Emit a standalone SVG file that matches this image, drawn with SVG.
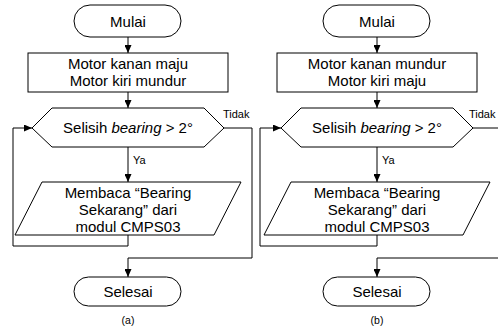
<svg xmlns="http://www.w3.org/2000/svg" width="498" height="329" viewBox="0 0 498 329">
<style>
.s{fill:#fff;stroke:#000;stroke-width:1}
.c{fill:none;stroke:#000;stroke-width:1}
text{font-family:"Liberation Sans",Arial,sans-serif;fill:#000}
.t{font-size:15px;text-anchor:middle}
.l{font-size:11px}
.cap{font-size:10.5px;text-anchor:middle}
</style>
<defs>
<marker id="ah" markerUnits="userSpaceOnUse" markerWidth="8" markerHeight="7" refX="8" refY="3.5" orient="auto">
<path d="M0,0 L8,3.5 L0,7 z" fill="#000"/>
</marker>
</defs>
<rect width="498" height="329" fill="#fff"/>
<g id="diagram-a">
<g id="connectors-a">
<path class="c" d="M128,37 V53" marker-end="url(#ah)"/>
<path class="c" d="M128,92 V108" marker-end="url(#ah)"/>
<path class="c" d="M128,147 V182" marker-end="url(#ah)"/>
<path class="c" d="M128,235 V246 H13 V128 H32" marker-end="url(#ah)"/>
<path class="c" d="M224,128 H252 V258 H128 V277" marker-end="url(#ah)"/>
<text class="l" x="133" y="164">Ya</text>
<text class="l" x="223" y="118">Tidak</text>
</g>
<g id="a-mulai"><rect class="s" x="74" y="5" width="107" height="32" rx="16"/><text class="t" x="128" y="27">Mulai</text></g>
<g id="a-motor"><rect class="s" x="28" y="53" width="200" height="39"/><text class="t" x="128" y="69">Motor kanan maju</text><text class="t" x="128" y="86">Motor kiri mundur</text></g>
<g id="a-cek"><polygon class="s" points="32,128 52,108 204,108 224,128 204,147 52,147"/><text class="t" x="128" y="133">Selisih <tspan font-style="italic">bearing</tspan> &gt; 2°</text></g>
<g id="a-baca"><polygon class="s" points="42,182 241,182 214,235 15,235"/><text class="t" x="128" y="198">Membaca “Bearing</text><text class="t" x="128" y="215">Sekarang” dari</text><text class="t" x="128" y="232">modul CMPS03</text></g>
<g id="a-selesai"><rect class="s" x="74" y="277" width="107" height="29" rx="14.5"/><text class="t" x="128" y="297">Selesai</text></g>
<text class="cap" x="128" y="324">(a)</text>
</g>
<g id="diagram-b" transform="translate(249,0)">
<g id="connectors-b">
<path class="c" d="M128,37 V53" marker-end="url(#ah)"/>
<path class="c" d="M128,92 V108" marker-end="url(#ah)"/>
<path class="c" d="M128,147 V182" marker-end="url(#ah)"/>
<path class="c" d="M128,235 V246 H11 V128 H32" marker-end="url(#ah)"/>
<path class="c" d="M224,128 H270 V258 H128 V277" marker-end="url(#ah)"/>
<text class="l" x="133" y="164">Ya</text>
<text class="l" x="220" y="118">Tidak</text>
</g>
<g id="b-mulai"><rect class="s" x="74" y="5" width="107" height="32" rx="16"/><text class="t" x="128" y="27">Mulai</text></g>
<g id="b-motor"><rect class="s" x="28" y="53" width="200" height="39"/><text class="t" x="128" y="69">Motor kanan mundur</text><text class="t" x="128" y="86">Motor kiri maju</text></g>
<g id="b-cek"><polygon class="s" points="32,128 52,108 204,108 224,128 204,147 52,147"/><text class="t" x="128" y="133">Selisih <tspan font-style="italic">bearing</tspan> &gt; 2°</text></g>
<g id="b-baca"><polygon class="s" points="42,182 241,182 214,235 15,235"/><text class="t" x="128" y="198">Membaca “Bearing</text><text class="t" x="128" y="215">Sekarang” dari</text><text class="t" x="128" y="232">modul CMPS03</text></g>
<g id="b-selesai"><rect class="s" x="74" y="277" width="107" height="29" rx="14.5"/><text class="t" x="128" y="297">Selesai</text></g>
<text class="cap" x="128" y="324">(b)</text>
</g>
</svg>
